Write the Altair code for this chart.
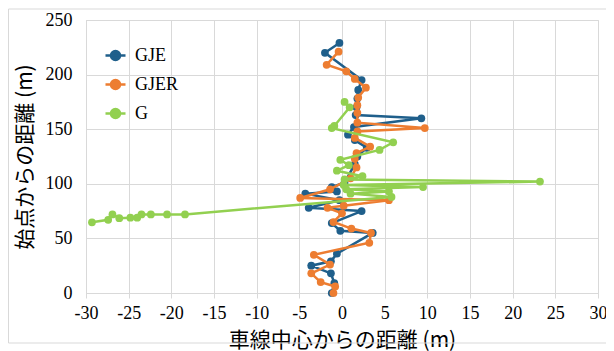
import altair as alt
import pandas as pd

names = ["GJE", "GJER", "G"]
colors = ["#1f5f8b", "#ed7d31", "#92d050"]

gje_x = [-1.2, -0.9, -1.3, -3.6, -1.3, -0.6, 3.6, -0.2, -1.2, 2.3, -3.9, -0.3, -4.3, -0.6, -1.2, 0.3,
         1.5, 1.8, 2.9, 1.5, 0.7, 1.4, 9.3, 1.6, 1.7, 1.8, 1.9, 2.3, -2.0, -0.3]
gje_y = [0, 9, 18, 25, 29, 36, 55, 57, 64, 75, 78, 85, 91, 93, 97, 101,
         118, 125, 133, 140, 145, 152, 160, 163, 170, 178, 186, 195, 220, 229]

gjer_x = [-1.0, -0.8, -2.5, -3.6, -1.4, -3.3, 3.2, 3.4, 1.1, -1.0, 0.0, -1.7, 0.2, 5.5, -4.9, -1.4,
          1.0, 1.7, 1.5, 1.7, 3.3, 1.5, 1.8, 9.7, 1.8, 1.8, 1.8, 1.9, 2.8, 1.5, 0.5, -1.8, -0.4]
gjer_y = [0, 6, 10, 18, 26, 35, 46, 55, 59, 65, 73, 78, 80, 85, 87, 95,
          105, 115, 123, 128, 134, 142, 148, 151, 156, 165, 172, 179, 188, 196, 203, 209, 221]

g_x = [-29.3, -27.4, -26.9, -26.1, -24.8, -24.0, -23.5, -22.4, -20.5, -18.4, 5.8, 1.0, 5.5, 0.5,
       9.5, 0.2, 23.2, 0.3, 2.4, -0.6, 0.8, -0.2, 4.4, 6.0, -1.2, -0.9, 0.9, 0.3]
g_y = [64.7, 67, 72, 68.5, 69, 69, 72, 72, 72, 72, 88, 91, 93, 95,
       97, 99, 102, 104, 107, 112, 117, 122, 131, 138, 151, 153, 170, 175]

x_ticks = list(range(-30, 31, 5))
y_ticks = list(range(0, 251, 50))

rows = []
for name, xs, ys in [("GJE", gje_x, gje_y), ("GJER", gjer_x, gjer_y), ("G", g_x, g_y)]:
    for i, (a, b) in enumerate(zip(xs, ys)):
        rows.append({"series": name, "x": a, "y": b, "idx": i})
df = pd.DataFrame(rows)

serif = "Liberation Serif"
jp = "Noto Sans CJK JP"
grid = "#d9d9d9"

scale = alt.Scale(domain=names, range=colors)
PATH = "M-1,0H1M-0.45,0A0.45,0.45,0,1,0,0.45,0A0.45,0.45,0,1,0,-0.45,0Z"
leg = alt.Legend(title=None, orient="none", legendX=18, legendY=24, symbolType=PATH,
                 symbolSize=400, symbolStrokeWidth=2.5, labelFont=serif, labelFontSize=18,
                 labelColor="#000000", rowPadding=8, labelOffset=8)

xenc = alt.X("x:Q", scale=alt.Scale(domain=[-30, 30], nice=False),
             axis=alt.Axis(values=x_ticks, title="車線中心からの距離 (m)", labelExpr="datum.value + ''",
                           grid=True, gridColor=grid, domainColor=grid, tickColor=grid, tickSize=5,
                           labelFlush=False, labelOverlap=False,
                           labelFont=serif, labelFontSize=18, labelColor="#000000", labelPadding=6,
                           titleFont=jp, titleFontSize=21, titleFontWeight="normal", titleColor="#000000",
                           titleY=47, titleBaseline="middle"))
yenc = alt.Y("y:Q", scale=alt.Scale(domain=[0, 250], nice=False),
             axis=alt.Axis(values=y_ticks, title="始点からの距離 (m)", grid=True, gridColor=grid,
                           domainColor=grid, ticks=False, labelFont=serif, labelFontSize=18,
                           labelFlush=False, labelOverlap=False,
                           labelColor="#000000", labelPadding=14,
                           titleFont=jp, titleFontSize=21, titleFontWeight="normal", titleColor="#000000",
                           titleX=-61, titleBaseline="middle", titleAngle=270))

frame = alt.Chart(pd.DataFrame({"a": [0]})).mark_rect(fill=None, stroke=grid, strokeWidth=1).encode(
    x=alt.value(-77.5), x2=alt.value(523), y=alt.value(-11), y2=alt.value(323))

layers = [frame]
for name in names:
    base = alt.Chart(df).transform_filter(alt.datum.series == name)
    line = base.mark_line(strokeWidth=2.5).encode(
        x=xenc, y=yenc, order="idx:Q", stroke=alt.Stroke("series:N", scale=scale, legend=leg))
    pts = base.mark_point(filled=True, size=60, opacity=1).encode(
        x=xenc, y=yenc, fill=alt.Fill("series:N", scale=scale, legend=leg))
    layers += [line, pts]

chart = alt.layer(*layers).properties(
    width=512, height=273,
    autosize=alt.AutoSizeParams(type="none"),
    padding={"left": 78, "top": 12, "right": 8, "bottom": 58},
).configure_view(stroke=None).configure(background="white")

chart.save("out.html", embed_options={"renderer": "svg", "actions": False})
